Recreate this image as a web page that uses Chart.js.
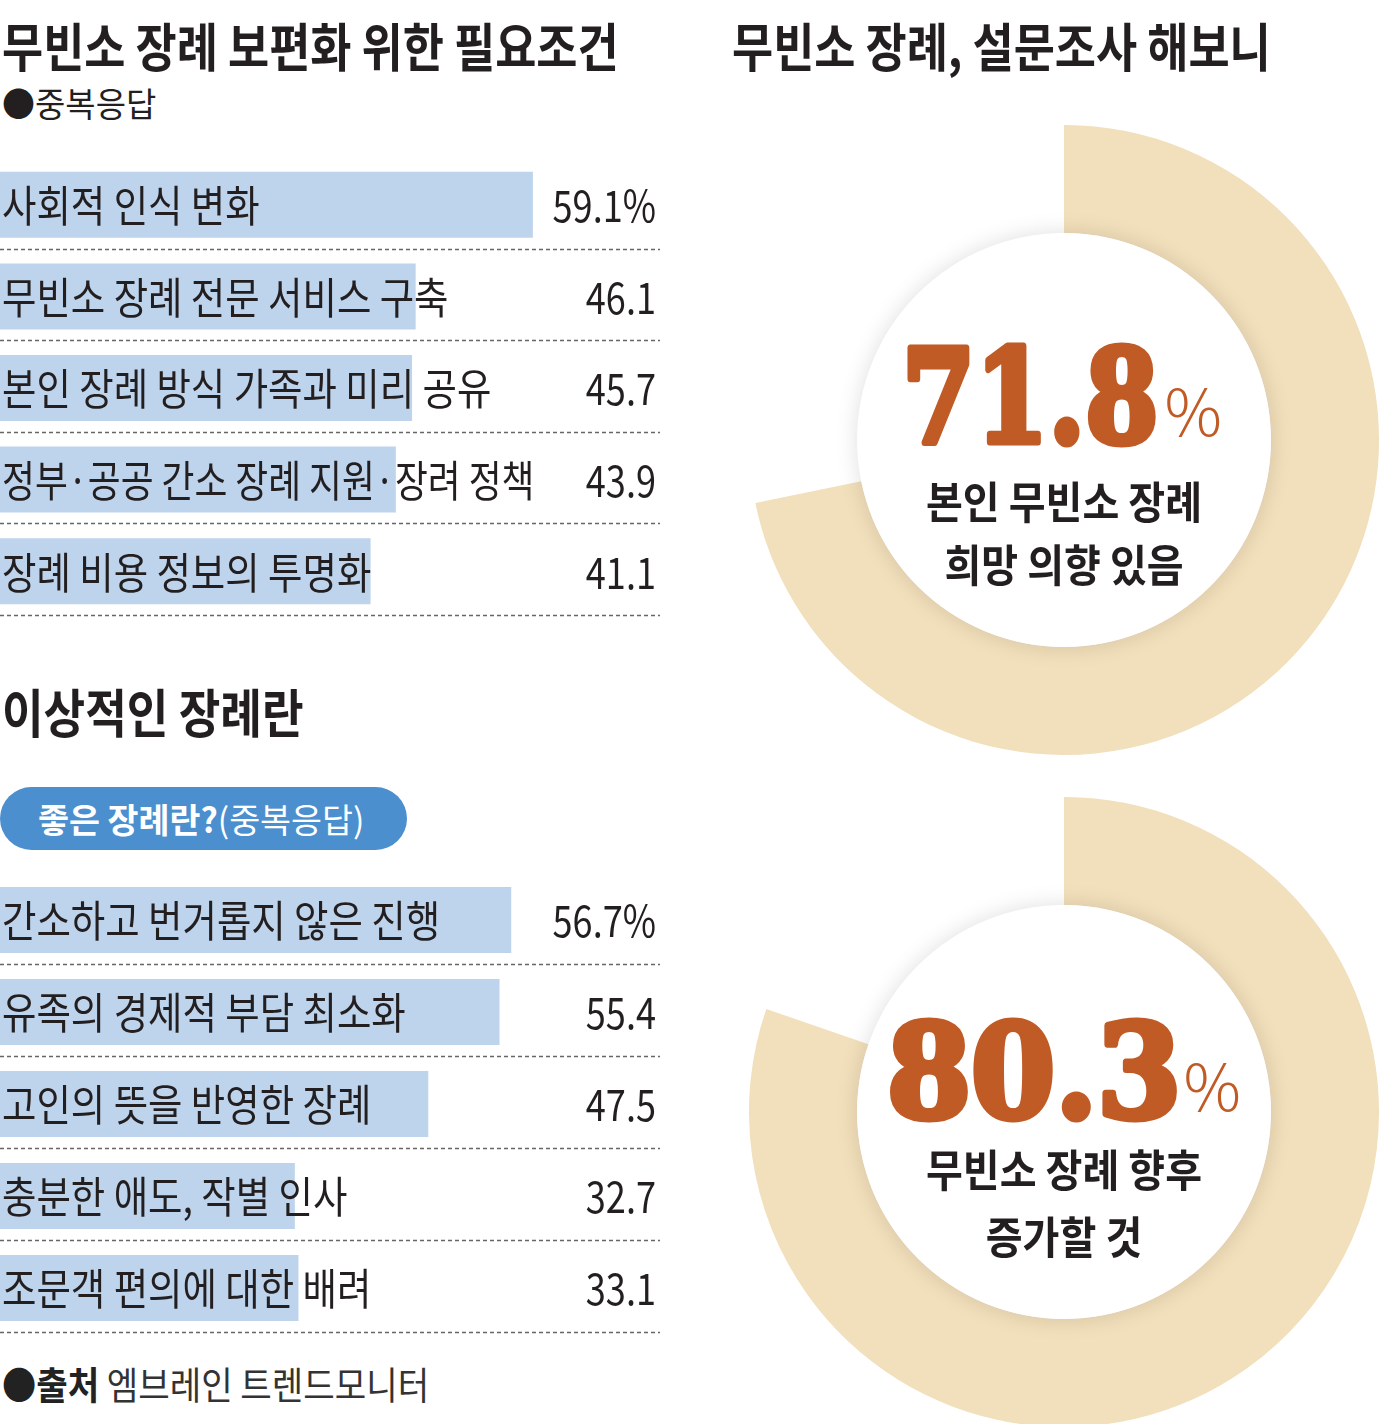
<!DOCTYPE html>
<html><head><meta charset="utf-8">
<script src="https://cdn.jsdelivr.net/npm/chart.js@4.4.1/dist/chart.umd.min.js"></script>
<style>
html,body{margin:0;padding:0;background:#fff;}
body{width:1392px;height:1424px;position:relative;overflow:hidden;font-family:"Noto Sans CJK KR","Noto Sans",sans-serif;color:#231f20;}
.t{position:absolute;white-space:nowrap;transform-origin:0 50%;line-height:1;}
canvas{position:absolute;}
.pill{position:absolute;left:0;top:787px;width:407px;height:63px;border-radius:32px;background:#4b8fcf;}
</style></head><body>

<div class="t" style="left:2px;top:19px;font-size:52px;font-weight:700;transform:scaleX(0.86);">무빈소 장례 보편화 위한 필요조건</div>
<div class="t" style="left:2px;top:86px;font-size:34px;font-weight:400;transform:scaleX(0.97);">●중복응답</div>
<div class="t" style="left:732px;top:19px;font-size:52px;font-weight:700;transform:scaleX(0.86);">무빈소 장례, 설문조사 해보니</div>
<div class="t" style="left:2px;top:685px;font-size:52px;font-weight:700;transform:scaleX(0.87);">이상적인 장례란</div>
<div class="pill"></div>
<div class="t" style="left:38px;top:802px;font-size:34px;color:#fff;transform:scaleX(0.99);"><b>좋은 장례란?</b>(중복응답)</div>
<div class="t" style="left:2px;top:1364px;font-size:38px;color:#222;transform:scaleX(0.9);"><b>●출처</b> <span style="color:#333">엠브레인 트렌드모니터</span></div>

<canvas id="bar1" width="660" height="458" style="left:0;top:159px;"></canvas>
<canvas id="bar2" width="660" height="460" style="left:0;top:874px;"></canvas>
<canvas id="pie1" width="630" height="630" style="left:749px;top:125px;"></canvas>
<canvas id="pie2" width="630" height="630" style="left:749px;top:797px;"></canvas>

<script>
// ---- data ----
const conditionLabels = ['사회적 인식 변화','무빈소 장례 전문 서비스 구축','본인 장례 방식 가족과 미리 공유','정부·공공 간소 장례 지원·장려 정책','장례 비용 정보의 투명화'];
const conditionValues = [59.1, 46.1, 45.7, 43.9, 41.1];
const idealLabels = ['간소하고 번거롭지 않은 진행','유족의 경제적 부담 최소화','고인의 뜻을 반영한 장례','충분한 애도, 작별 인사','조문객 편의에 대한 배려'];
const idealValues = [56.7, 55.4, 47.5, 32.7, 33.1];
const wishValue = 71.8;
const wishLines = ['본인 무빈소 장례','희망 의향 있음'];
const growValue = 80.3;
const growLines = ['무빈소 장례 향후','증가할 것'];

const FONT = '"Noto Sans CJK KR","Noto Sans",sans-serif';
const LABEL_SX = 0.87;
const VALUE_SX = 0.84;
const LABEL_MAXW = 612;

const rowsPlugin = {
  id: 'rows',
  afterDatasetsDraw(chart) {
    const ctx = chart.ctx, ys = chart.scales.y, area = chart.chartArea;
    const labels = chart.data.labels, vals = chart.data.datasets[0].data;
    const step = ys.getPixelForValue(1) - ys.getPixelForValue(0);
    ctx.save();
    ctx.strokeStyle = '#666'; ctx.lineWidth = 1.5; ctx.setLineDash([4, 3]);
    for (let i = 0; i < labels.length; i++) {
      const yy = Math.round(ys.getPixelForValue(i) + step / 2) - 1.5;
      ctx.beginPath(); ctx.moveTo(area.left, yy); ctx.lineTo(area.right, yy); ctx.stroke();
    }
    ctx.setLineDash([]);
    ctx.fillStyle = '#231f20';
    ctx.textBaseline = 'middle';
    for (let i = 0; i < labels.length; i++) {
      const yc = ys.getPixelForValue(i) + 1;
      ctx.font = `400 43px ${FONT}`;
      ctx.save(); ctx.translate(2, yc); ctx.scale(LABEL_SX, 1);
      ctx.textAlign = 'left'; ctx.fillText(labels[i], 0, 0, LABEL_MAXW); ctx.restore();
      const txt = vals[i].toFixed(1) + (i === 0 ? '%' : '');
      ctx.save(); ctx.translate(656, yc); ctx.scale(VALUE_SX, 1);
      ctx.textAlign = 'right'; ctx.fillText(txt, 0, 0); ctx.restore();
    }
    ctx.restore();
  }
};

function barChart(id, labels, values) {
  return new Chart(document.getElementById(id), {
    type: 'bar',
    data: { labels, datasets: [{ data: values, backgroundColor: '#bdd4ec', borderWidth: 0, barPercentage: 0.72, categoryPercentage: 1 }] },
    options: {
      indexAxis: 'y', responsive: false, animation: false,
      layout: { padding: 0 },
      scales: { x: { min: 0, max: 73.2, display: false }, y: { display: false } },
      plugins: { legend: { display: false }, tooltip: { enabled: false } }
    },
    plugins: [rowsPlugin]
  });
}
barChart('bar1', conditionLabels, conditionValues);
barChart('bar2', idealLabels, idealValues);

const centerPlugin = {
  id: 'center',
  afterDatasetsDraw(chart, args, opts) {
    const ctx = chart.ctx, arc = chart.getDatasetMeta(0).data[0];
    const cx = arc.x, cy = arc.y, r = arc.innerRadius;
    ctx.save();
    ctx.shadowColor = 'rgba(0,0,0,0.13)'; ctx.shadowBlur = 22;
    ctx.fillStyle = '#fff';
    ctx.beginPath(); ctx.arc(cx, cy, r, 0, Math.PI * 2); ctx.fill();
    ctx.shadowColor = 'transparent'; ctx.shadowBlur = 0;
    const val = chart.data.datasets[0].data[0];
    const num = val.toFixed(1);
    ctx.fillStyle = '#c05b26'; ctx.strokeStyle = '#c05b26';
    ctx.lineWidth = 7; ctx.lineJoin = 'round';
    ctx.textBaseline = 'alphabetic';
    ctx.font = `700 130px "DejaVu Serif"`;
    const sx = opts.sx;
    const w = ctx.measureText(num).width * sx;
    ctx.save(); ctx.translate(opts.numX, cy + opts.base); ctx.scale(sx, 1);
    ctx.strokeText(num, 0, 0); ctx.fillText(num, 0, 0); ctx.restore();
    ctx.font = `300 64px ${FONT}`;
    ctx.fillText('%', opts.numX + w + opts.pctGap, cy + opts.base - 6);
    ctx.fillStyle = '#231f20';
    ctx.textAlign = 'center'; ctx.textBaseline = 'middle';
    ctx.font = `700 44px ${FONT}`;
    opts.lines.forEach((ln, i) => {
      ctx.save(); ctx.translate(cx, cy + opts.lineY[i]); ctx.scale(0.91, 1);
      ctx.fillText(ln, 0, 0); ctx.restore();
    });
    ctx.restore();
  }
};

function donut(id, value, lines, center) {
  return new Chart(document.getElementById(id), {
    type: 'doughnut',
    data: { labels: ['yes', 'rest'], datasets: [{ data: [value, 100 - value], backgroundColor: ['#f2dfbb', 'rgba(255,255,255,0)'], borderWidth: 0 }] },
    options: {
      responsive: false, animation: false, cutout: '65.7%',
      layout: { padding: 0 },
      plugins: { legend: { display: false }, tooltip: { enabled: false }, center: Object.assign({ lines }, center) }
    },
    plugins: [centerPlugin]
  });
}
donut('pie1', wishValue, wishLines, { numX: 153, base: 2, sx: 0.81, pctGap: 6, lineY: [62, 125] });
donut('pie2', growValue, growLines, { numX: 138, base: 5, sx: 0.93, pctGap: 2, lineY: [58, 125] });
</script>
</body></html>
